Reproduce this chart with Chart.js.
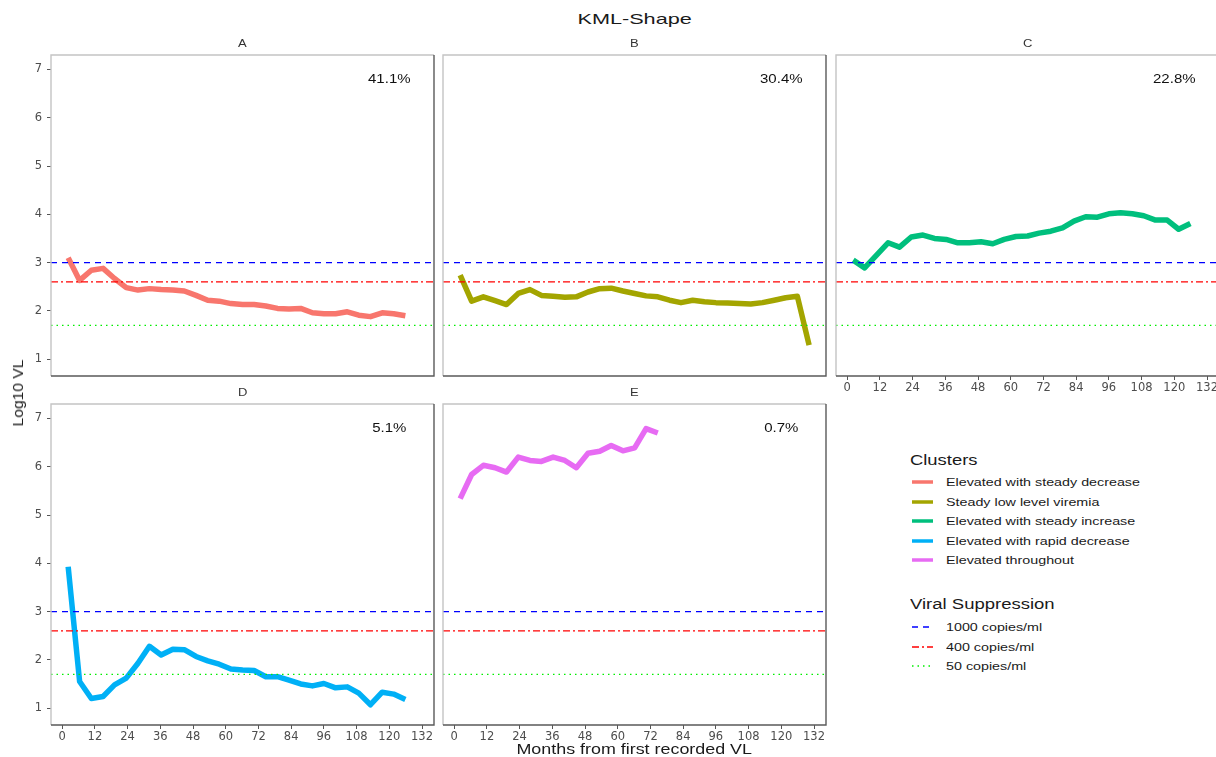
<!DOCTYPE html>
<html>
<head>
<meta charset="utf-8">
<script src="https://cdn.jsdelivr.net/npm/chart.js@4.4.1/dist/chart.umd.min.js"></script>
<style>
  html, body { margin: 0; padding: 0; background: #fff; overflow: hidden; }
  body { width: 1216px; height: 757px; position: relative; font-family: "Liberation Sans", Arial, sans-serif; }
  canvas { position: absolute; }
  .txt { position: absolute; white-space: nowrap; color: #1a1a1a; line-height: 1; }
  .key { position: absolute; }
</style>
</head>
<body>
<script>
// months from first recorded VL (shared by all clusters)
const months = [2.2, 6.4, 10.7, 15, 19.2, 23.5, 27.8, 32, 36.3, 40.6, 44.8, 49.1, 53.4, 57.6, 61.9,
  66.2, 70.4, 74.7, 79, 83.2, 87.5, 91.8, 96, 100.3, 104.6, 108.8, 113.1, 117.4, 121.6, 125.9, 130.2];

// mean log10 VL per cluster
const vlA = [3.10, 2.63, 2.84, 2.88, 2.67, 2.48, 2.43, 2.46, 2.44, 2.43, 2.41, 2.32, 2.22, 2.20, 2.15,
  2.13, 2.13, 2.10, 2.05, 2.04, 2.05, 1.96, 1.94, 1.94, 1.98, 1.91, 1.88, 1.96, 1.94, 1.90];
const vlB = [2.74, 2.20, 2.29, 2.21, 2.13, 2.36, 2.44, 2.32, 2.30, 2.28, 2.29, 2.39, 2.46, 2.47, 2.41,
  2.36, 2.31, 2.29, 2.22, 2.17, 2.22, 2.19, 2.17, 2.16, 2.15, 2.14, 2.17, 2.22, 2.27, 2.30, 1.29];
const vlC = [3.05, 2.89, 3.15, 3.41, 3.32, 3.53, 3.57, 3.50, 3.48, 3.41, 3.41, 3.43, 3.39, 3.48, 3.54,
  3.55, 3.61, 3.65, 3.72, 3.86, 3.95, 3.94, 4.01, 4.03, 4.01, 3.97, 3.88, 3.88, 3.69, 3.81];
const vlD = [3.93, 1.55, 1.20, 1.24, 1.48, 1.62, 1.93, 2.28, 2.10, 2.22, 2.21, 2.07, 1.98, 1.91, 1.81,
  1.79, 1.78, 1.65, 1.65, 1.58, 1.50, 1.46, 1.51, 1.42, 1.44, 1.31, 1.07, 1.33, 1.29, 1.18];
const vlE = [5.34, 5.84, 6.03, 5.98, 5.89, 6.20, 6.13, 6.11, 6.20, 6.13, 5.98, 6.28, 6.32, 6.44, 6.33,
  6.39, 6.79, 6.70];

const panelLetters = ["A", "B", "C", "D", "E"];
const clusterNames = ["Elevated with steady decrease", "Steady low level viremia", "Elevated with steady increase",
  "Elevated with rapid decrease", "Elevated throughout"];
const clusterColors = ["#F8766D", "#A3A500", "#00BF7D", "#00B0F6", "#E76BF3"];
const shares = ["41.1%", "30.4%", "22.8%", "5.1%", "0.7%"];

// suppression thresholds (log10 copies/ml)
const thresholdNames = ["1000 copies/ml", "400 copies/ml", "50 copies/ml"];
const thresholdValues = [3, 2.602, 1.699];
const thresholdColors = ["#0000FF", "#FF0000", "#00EE00"];
const thresholdDash = [[6, 5], [7, 3, 2, 3], [1.5, 4]];

const xTicks = [0, 12, 24, 36, 48, 60, 72, 84, 96, 108, 120, 132];
const yTicks = [1, 2, 3, 4, 5, 6, 7];

const allSeries = [vlA, vlB, vlC, vlD, vlE];
const X_MIN = -4.1, X_MAX = 136.4, Y_MIN = 0.65, Y_MAX = 7.3;
const PANEL_W = 383, PANEL_H = 321;
const PAD_T = 12, PAD_R = 14, AXIS_H = 24;

// where each facet goes on the page
const layout = [
  { left: 51, top: 55, yLab: true, xLab: false },
  { left: 443, top: 55, yLab: false, xLab: false },
  { left: 836, top: 55, yLab: false, xLab: true },
  { left: 51, top: 404, yLab: true, xLab: true },
  { left: 443, top: 404, yLab: false, xLab: true }
];

const tickFont = { family: "DejaVu Sans", size: 11.5 };

// panel border + share label
const panelPlugin = {
  id: "panelBox",
  afterDatasetsDraw(chart, args, opts) {
    const { ctx, chartArea: a, scales } = chart;
    ctx.save();
    const px = scales.x.getPixelForValue(120), py = scales.y.getPixelForValue(6.8);
    ctx.translate(px, py);
    ctx.scale(1.2, 1);
    ctx.fillStyle = "#111";
    ctx.font = "12.5px 'Liberation Sans', Arial, sans-serif";
    ctx.textAlign = "center";
    ctx.textBaseline = "middle";
    ctx.fillText(opts.text, 0, 0);
    ctx.restore();

    ctx.save();
    ctx.lineWidth = 1.4;
    ctx.strokeStyle = "#c4c4c4";
    ctx.beginPath();
    ctx.moveTo(a.left, a.bottom);
    ctx.lineTo(a.left, a.top);
    ctx.lineTo(a.right, a.top);
    ctx.stroke();
    ctx.strokeStyle = "#5a5a5a";
    ctx.beginPath();
    ctx.moveTo(a.right, a.top);
    ctx.lineTo(a.right, a.bottom);
    ctx.lineTo(a.left, a.bottom);
    ctx.stroke();
    ctx.restore();
  }
};

function makePanel(i) {
  const L = layout[i];
  const yW = L.yLab ? 40 : 14;
  const cv = document.createElement("canvas");
  cv.width = yW + PANEL_W + PAD_R;
  cv.height = PAD_T + PANEL_H + AXIS_H;
  cv.style.left = (L.left - yW) + "px";
  cv.style.top = (L.top - PAD_T) + "px";
  document.body.appendChild(cv);

  const datasets = thresholdValues.map((v, k) => ({
    data: [{ x: X_MIN, y: v }, { x: X_MAX, y: v }],
    borderColor: thresholdColors[k],
    borderWidth: 1.3,
    borderDash: thresholdDash[k],
    pointRadius: 0
  }));
  datasets.push({
    data: allSeries[i].map((v, k) => ({ x: months[k], y: v })),
    borderColor: clusterColors[i],
    borderWidth: 5.5,
    borderJoinStyle: "round",
    pointRadius: 0,
    tension: 0
  });

  new Chart(cv.getContext("2d"), {
    type: "line",
    data: { datasets },
    plugins: [panelPlugin],
    options: {
      responsive: false,
      animation: false,
      devicePixelRatio: 1,
      layout: { padding: { top: PAD_T, right: PAD_R, left: 0, bottom: 0 } },
      plugins: { legend: { display: false }, tooltip: { enabled: false }, panelBox: { text: shares[i] } },
      scales: {
        x: {
          type: "linear", min: X_MIN, max: X_MAX,
          border: { display: false },
          grid: { display: L.xLab, drawOnChartArea: false, drawTicks: true, tickLength: 4, color: "#555" },
          ticks: { display: L.xLab, autoSkip: false, maxRotation: 0, padding: 1, color: "#4d4d4d", font: tickFont },
          afterBuildTicks: s => { s.ticks = xTicks.map(v => ({ value: v })); },
          afterFit: s => { s.height = AXIS_H; }
        },
        y: {
          type: "linear", min: Y_MIN, max: Y_MAX,
          border: { display: false },
          grid: { display: L.yLab, drawOnChartArea: false, drawTicks: true, tickLength: 4, color: "#555" },
          ticks: { display: L.yLab, padding: 5, color: "#4d4d4d", font: tickFont },
          afterBuildTicks: s => { s.ticks = yTicks.map(v => ({ value: v })); },
          afterFit: s => { s.width = yW; }
        }
      }
    }
  });
}

// html text, stretched sideways like the source image
function addText(str, x, y, size, opts = {}) {
  const d = document.createElement("div");
  d.className = "txt";
  d.textContent = str;
  d.style.fontSize = size + "px";
  if (opts.color) d.style.color = opts.color;
  document.body.appendChild(d);
  const w = d.offsetWidth, h = d.offsetHeight;
  const sx = opts.width ? opts.width / w : (opts.sx || 1.25);
  let tx;
  if (opts.anchor === "left") tx = x;
  else tx = x - w / 2;
  d.style.left = tx + "px";
  d.style.top = (y - h / 2) + "px";
  d.style.transformOrigin = opts.anchor === "left" ? "0 50%" : "50% 50%";
  d.style.transform = (opts.rotate ? "rotate(-90deg) " : "") + "scaleX(" + sx + ")";
  return d;
}

function addKey(x, y, color, width, dash) {
  const ns = "http://www.w3.org/2000/svg";
  const svg = document.createElementNS(ns, "svg");
  svg.setAttribute("width", 24);
  svg.setAttribute("height", 10);
  svg.setAttribute("class", "key");
  svg.style.left = x + "px";
  svg.style.top = (y - 5) + "px";
  const ln = document.createElementNS(ns, "line");
  ln.setAttribute("x1", 1); ln.setAttribute("x2", 22);
  ln.setAttribute("y1", 5); ln.setAttribute("y2", 5);
  ln.setAttribute("stroke", color);
  ln.setAttribute("stroke-width", width);
  if (dash) ln.setAttribute("stroke-dasharray", dash.join(" "));
  svg.appendChild(ln);
  document.body.appendChild(svg);
}

for (let i = 0; i < allSeries.length; i++) makePanel(i);

// titles
addText("KML-Shape", 634, 18, 15, { width: 114 });
const stripX = [242, 634, 1027, 242, 634];
const stripY = [44, 44, 44, 393, 393];
panelLetters.forEach((p, i) => addText(p, stripX[i], stripY[i], 10, { color: "#333", sx: 1.3 }));
addText("Log10 VL", 18, 393, 14, { rotate: true, width: 67 });
addText("Months from first recorded VL", 634, 749, 14, { width: 235 });

// legend
addText("Clusters", 910, 460, 14, { anchor: "left", width: 67 });
const rowY = [482, 502, 521, 541, 560];
clusterNames.forEach((n, i) => {
  addKey(911, rowY[i], clusterColors[i], 3.5, null);
  addText(n, 946, rowY[i], 11, { anchor: "left", sx: 1.3 });
});
addText("Viral Suppression", 910, 604, 14, { anchor: "left", width: 144 });
const thrY = [627, 647, 666];
thresholdNames.forEach((n, i) => {
  addKey(911, thrY[i], thresholdColors[i], 1.3, thresholdDash[i]);
  addText(n, 946, thrY[i], 11, { anchor: "left", sx: 1.3 });
});
</script>
</body>
</html>
